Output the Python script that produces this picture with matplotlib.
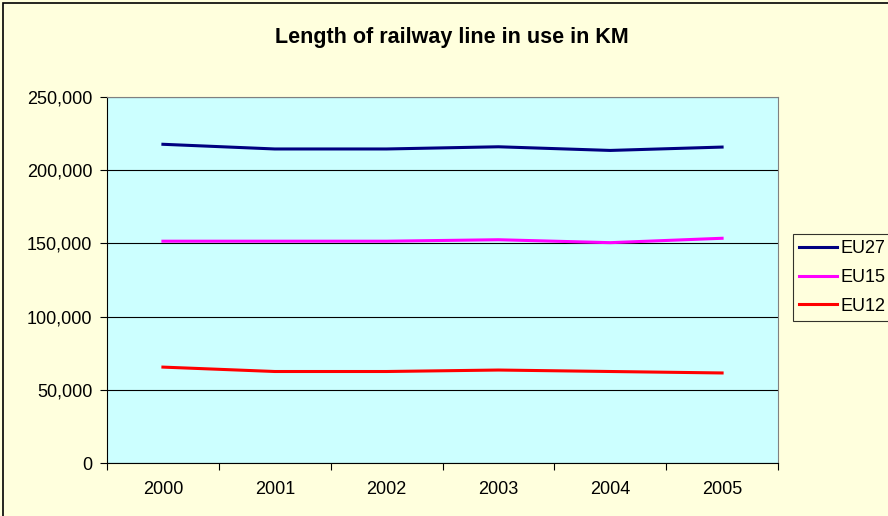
import matplotlib.pyplot as plt
from matplotlib.patches import Rectangle
from matplotlib.ticker import FuncFormatter, FixedLocator

plt.rcParams['font.family'] = ['Liberation Sans', 'DejaVu Sans']

years = ["2000", "2001", "2002", "2003", "2004", "2005"]
eu27 = [217700, 214500, 214500, 216000, 213500, 215800]
eu15 = [151500, 151500, 151500, 152500, 150500, 153500]
eu12 = [65500, 62500, 62500, 63500, 62500, 61500]

fig = plt.figure(figsize=(8.88, 5.16), dpi=100)
fig.patch.set_facecolor("#FFFFDD")
# chart-area outline (runs off the right/bottom edge)
fig.patches.append(Rectangle((3/888, -0.05), 1.2, 1 - 3/516 + 0.05, transform=fig.transFigure,
                             fill=False, edgecolor="black", lw=1.2, zorder=0))

ax = fig.add_axes([107/888, 1 - 463/516, (778-107)/888, (463-97)/516])
ax.set_facecolor("#CCFFFF")

x = list(range(len(years)))
ax.plot(x, eu27, color="#000080", lw=2.2, label="EU27", zorder=3)
ax.plot(x, eu15, color="#FF00FF", lw=2.2, label="EU15", zorder=3)
ax.plot(x, eu12, color="#FF0000", lw=2.2, label="EU12", zorder=3)

ax.set_xlim(-0.5, 5.5)
ax.set_ylim(0, 250000)
ax.set_yticks(range(0, 250001, 50000))
ax.yaxis.set_major_formatter(FuncFormatter(lambda v, p: f"{int(v):,}"))
ax.grid(axis="y", color="black", lw=0.8)
ax.set_axisbelow(True)

# category labels between boundary ticks
ax.xaxis.set_major_locator(FixedLocator([i - 0.5 for i in range(7)]))
ax.xaxis.set_minor_locator(FixedLocator(x))
ax.set_xticklabels([])
ax.set_xticklabels(years, minor=True)
ax.tick_params(axis="x", which="major", length=5, direction="out", color="black")
ax.tick_params(axis="x", which="minor", length=0, pad=13, labelsize=13)
ax.tick_params(axis="y", length=5, direction="out", labelsize=13, pad=5.5)

for s in ("top", "right"):
    ax.spines[s].set_color("#808080")
for s in ("left", "bottom"):
    ax.spines[s].set_color("black")

fig.text(452/888, 1 - 37/516, "Length of railway line in use in KM", ha="center", va="center",
         fontsize=15.5, fontweight="bold")

leg = fig.legend(loc="upper left", bbox_to_anchor=(793/888, 1 - 234/516), frameon=True,
                 fancybox=False, fontsize=13, handlelength=2.1, handletextpad=0.2,
                 borderaxespad=0, borderpad=0.35, labelspacing=0.65)
leg.get_frame().set_edgecolor("black")
leg.get_frame().set_facecolor("#FFFFDD")
leg.get_frame().set_linewidth(0.8)

fig.savefig("out.png", dpi=100, facecolor=fig.get_facecolor())
